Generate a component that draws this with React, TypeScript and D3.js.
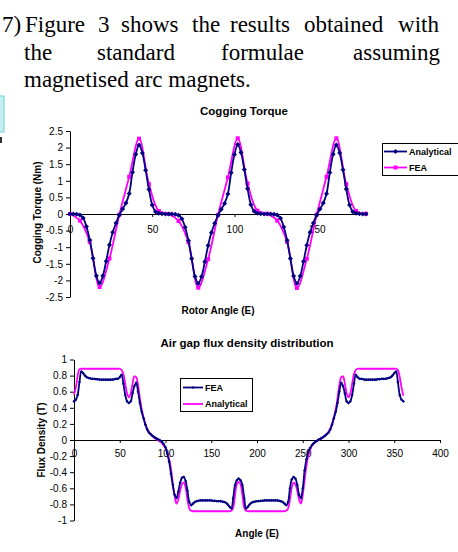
import React, { useEffect, useRef } from 'react';
import * as d3 from 'd3';

// Cogging torque chart
const rotorAngle = [
  0, 2, 4, 6, 8, 10, 12, 14, 16, 18, 20, 22, 24, 26, 28, 30, 32, 34, 36, 38,
  40, 42, 44, 46, 48, 50, 52, 54, 56, 58, 60, 62, 64, 66, 68, 70, 72, 74, 76, 78,
  80, 82, 84, 86, 88, 90, 92, 94, 96, 98, 100, 102, 104, 106, 108, 110, 112, 114, 116, 118,
  120, 122, 124, 126, 128, 130, 132, 134, 136, 138, 140, 142, 144, 146, 148, 150, 152, 154, 156, 158,
  160, 162, 164, 166, 168, 170, 172, 174, 176, 178, 180,
];
const torqueAnalytical = [
  0, 0, -0.01, -0.03, -0.12, -0.38, -0.78, -1.33, -1.86, -2.08, -1.86, -1.42, -0.93, -0.55, -0.27,
  -0.03, 0.15, 0.33, 0.62, 1.26, 1.8, 2.08, 1.84, 1.32, 0.74, 0.27, 0.07, 0.02, 0.01, 0,
  0, 0, -0.01, -0.04, -0.14, -0.4, -0.8, -1.35, -1.88, -2.09, -1.88, -1.44, -0.95, -0.56, -0.28,
  -0.04, 0.14, 0.32, 0.6, 1.24, 1.79, 2.09, 1.85, 1.34, 0.76, 0.28, 0.08, 0.02, 0.01, 0,
  0, 0, -0.01, -0.03, -0.13, -0.39, -0.79, -1.34, -1.87, -2.09, -1.87, -1.43, -0.94, -0.55, -0.27,
  -0.03, 0.15, 0.33, 0.61, 1.25, 1.8, 2.08, 1.84, 1.33, 0.75, 0.27, 0.07, 0.02, 0.01, 0,
  0,
];
const feaRotorAngle = [
  0, 6, 12, 18, 24, 30, 36, 42, 48, 54, 60, 66, 72, 78, 84, 90,
  96, 102, 108, 114, 120, 126, 132, 138, 144, 150, 156, 162, 168, 174, 180,
];
const torqueFea = [
  0, -0.2, -0.84, -2.2, -1.34, -0.02, 1.12, 2.27, 0.9, 0.09,
  0, -0.21, -0.85, -2.22, -1.36, -0.03, 1.1, 2.28, 0.92, 0.1,
  0.01, -0.2, -0.84, -2.23, -1.35, -0.02, 1.12, 2.28, 0.9, 0.09,
  0.01,
];
const torqueTicks = [2.5, 2, 1.5, 1, 0.5, 0, -0.5, -1, -1.5, -2, -2.5];
const rotorTicks = [0, 50, 100, 150];

// Air gap flux density chart
const fluxAngle = [
  0, 2, 4, 6, 8, 10, 12, 14, 16, 18, 20, 22, 24, 26, 28, 30, 32, 34, 36, 38,
  40, 42, 44, 46, 48, 50, 52, 54, 56, 58, 60, 62, 64, 66, 68, 70, 72, 74, 76, 78,
  80, 82, 84, 86, 88, 90, 92, 94, 96, 98, 100, 102, 104, 106, 108, 110, 112, 114, 116, 118,
  120, 122, 124, 126, 128, 130, 132, 134, 136, 138, 140, 142, 144, 146, 148, 150, 152, 154, 156, 158,
  160, 162, 164, 166, 168, 170, 172, 174, 176, 178, 180, 182, 184, 186, 188, 190, 192, 194, 196, 198,
  200, 202, 204, 206, 208, 210, 212, 214, 216, 218, 220, 222, 224, 226, 228, 230, 232, 234, 236, 238,
  240, 242, 244, 246, 248, 250, 252, 254, 256, 258, 260, 262, 264, 266, 268, 270, 272, 274, 276, 278,
  280, 282, 284, 286, 288, 290, 292, 294, 296, 298, 300, 302, 304, 306, 308, 310, 312, 314, 316, 318,
  320, 322, 324, 326, 328, 330, 332, 334, 336, 338, 340, 342, 344, 346, 348, 350, 352, 354, 356, 358,
  360,
];
const fluxFea = [
  0.48, 0.5, 0.56, 0.72, 0.85, 0.83, 0.8, 0.78, 0.77, 0.765,
  0.76, 0.76, 0.755, 0.755, 0.75, 0.75, 0.75, 0.75, 0.75, 0.75,
  0.75, 0.75, 0.755, 0.76, 0.76, 0.78, 0.81, 0.7, 0.56, 0.48,
  0.46, 0.48, 0.58, 0.67, 0.71, 0.6, 0.46, 0.35, 0.27, 0.19,
  0.13, 0.09, 0.07, 0.05, 0.035, 0.02, 0.01, -0.005, -0.02, -0.05,
  -0.09, -0.17, -0.27, -0.42, -0.56, -0.68, -0.72, -0.64, -0.53, -0.47,
  -0.46, -0.51, -0.63, -0.77, -0.81, -0.79, -0.77, -0.76, -0.755, -0.75,
  -0.75, -0.75, -0.75, -0.75, -0.75, -0.75, -0.755, -0.755, -0.76, -0.76,
  -0.76, -0.765, -0.77, -0.78, -0.8, -0.83, -0.85, -0.72, -0.56, -0.5,
  -0.48, -0.5, -0.56, -0.72, -0.85, -0.83, -0.8, -0.78, -0.77, -0.765,
  -0.76, -0.76, -0.755, -0.755, -0.75, -0.75, -0.75, -0.75, -0.75, -0.75,
  -0.75, -0.75, -0.755, -0.76, -0.77, -0.79, -0.81, -0.77, -0.6, -0.49,
  -0.46, -0.48, -0.56, -0.68, -0.72, -0.6, -0.38, -0.24, -0.15, -0.1,
  -0.065, -0.04, -0.02, -0.005, 0.01, 0.02, 0.035, 0.05, 0.07, 0.09,
  0.13, 0.19, 0.27, 0.35, 0.46, 0.6, 0.71, 0.67, 0.58, 0.48,
  0.46, 0.48, 0.56, 0.7, 0.81, 0.78, 0.76, 0.76, 0.755, 0.75,
  0.75, 0.75, 0.75, 0.75, 0.75, 0.75, 0.755, 0.755, 0.76, 0.76,
  0.76, 0.765, 0.77, 0.78, 0.8, 0.83, 0.85, 0.72, 0.56, 0.5,
  0.48,
];
const fluxAnalytical = [
  0.56, 0.65, 0.8, 0.88, 0.885, 0.885, 0.885, 0.885, 0.885, 0.885,
  0.885, 0.885, 0.885, 0.885, 0.885, 0.885, 0.885, 0.885, 0.885, 0.885,
  0.885, 0.885, 0.885, 0.885, 0.885, 0.885, 0.87, 0.82, 0.7, 0.58,
  0.53, 0.58, 0.7, 0.79, 0.78, 0.68, 0.52, 0.38, 0.28, 0.2,
  0.14, 0.1, 0.07, 0.045, 0.025, 0.01, -0.005, -0.02, -0.04, -0.07,
  -0.1, -0.16, -0.24, -0.36, -0.55, -0.7, -0.79, -0.74, -0.63, -0.55,
  -0.53, -0.59, -0.74, -0.85, -0.88, -0.885, -0.885, -0.885, -0.885, -0.885,
  -0.885, -0.885, -0.885, -0.885, -0.885, -0.885, -0.885, -0.885, -0.885, -0.885,
  -0.885, -0.885, -0.885, -0.885, -0.885, -0.885, -0.88, -0.84, -0.68, -0.55,
  -0.52, -0.55, -0.68, -0.84, -0.88, -0.885, -0.885, -0.885, -0.885, -0.885,
  -0.885, -0.885, -0.885, -0.885, -0.885, -0.885, -0.885, -0.885, -0.885, -0.885,
  -0.885, -0.885, -0.885, -0.885, -0.885, -0.885, -0.88, -0.85, -0.74, -0.59,
  -0.53, -0.55, -0.63, -0.74, -0.79, -0.68, -0.5, -0.32, -0.2, -0.13,
  -0.07, -0.045, -0.025, -0.01, 0.005, 0.015, 0.03, 0.05, 0.07, 0.1,
  0.14, 0.2, 0.28, 0.38, 0.52, 0.68, 0.78, 0.79, 0.7, 0.58,
  0.53, 0.58, 0.7, 0.82, 0.87, 0.885, 0.885, 0.885, 0.885, 0.885,
  0.885, 0.885, 0.885, 0.885, 0.885, 0.885, 0.885, 0.885, 0.885, 0.885,
  0.885, 0.885, 0.885, 0.885, 0.885, 0.885, 0.885, 0.87, 0.78, 0.65,
  0.55,
];
const fluxTicks = [1, 0.8, 0.6, 0.4, 0.2, 0, -0.2, -0.4, -0.6, -0.8, -1];
const angleTicks = [0, 50, 100, 150, 200, 250, 300, 350, 400];

const NAVY = '#000080';
const MAGENTA = '#ff00ff';
const SANS = '"Liberation Sans", Arial, sans-serif';
const SERIF = '"Liberation Serif", "Times New Roman", serif';

type G = d3.Selection<SVGGElement, unknown, null, undefined>;

function styleAxis(g: G) {
  g.attr('font-family', SANS).attr('font-size', 10);
  g.selectAll('path.domain').attr('stroke', '#000');
  g.selectAll('.tick line').attr('stroke', '#000');
  g.selectAll('.tick text').attr('fill', '#000');
}

const App = () => {
  const ref = useRef<SVGSVGElement>(null);

  useEffect(() => {
    const svg = d3.select(ref.current);
    svg.selectAll('*').remove();

    svg.append('rect').attr('width', 458).attr('height', 552).attr('fill', '#fff');

    // paragraph text above the figure
    const para = svg.append('g').attr('font-family', SERIF).attr('font-size', 23).attr('fill', '#000');
    const words: [string, number, number, string][] = [
      ['7)', 2, 32, 'start'],
      ['Figure', 25, 32, 'start'], ['3', 98, 32, 'start'], ['shows', 121, 32, 'start'],
      ['the', 192, 32, 'start'], ['results', 230, 32, 'start'], ['obtained', 304, 32, 'start'],
      ['with', 439, 32, 'end'],
      ['the', 24, 59.5, 'start'], ['standard', 97, 59.5, 'start'], ['formulae', 221, 59.5, 'start'],
      ['assuming', 440, 59.5, 'end'],
      ['magnetised arc magnets.', 24, 86.5, 'start'],
    ];
    words.forEach(([t, x, y, a]) => {
      para.append('text').attr('x', x).attr('y', y).attr('text-anchor', a).text(t);
    });

    // small cyan box at the left edge
    svg.append('rect').attr('x', -1).attr('y', 96).attr('width', 5).attr('height', 36)
      .attr('fill', '#c4eef0').attr('stroke', '#6fd0d8');
    svg.append('rect').attr('x', 0).attr('y', 137).attr('width', 2).attr('height', 6).attr('fill', '#333');

    // ---------- Cogging Torque ----------
    const xT = d3.scaleLinear().domain([0, 180]).range([70, 366]);
    const yT = d3.scaleLinear().domain([-2.5, 2.5]).range([297, 131]);
    const top = svg.append('g');

    top.append('text').attr('x', 244).attr('y', 115).attr('text-anchor', 'middle')
      .attr('font-family', SANS).attr('font-size', 11.5).attr('font-weight', 'bold')
      .text('Cogging Torque');

    const yAxT = top.append('g').attr('transform', 'translate(70,0)')
      .call(d3.axisLeft(yT).tickValues(torqueTicks).tickFormat(d => String(d))
        .tickSize(4).tickPadding(3).tickSizeOuter(0));
    styleAxis(yAxT);

    const xAxT = top.append('g').attr('transform', `translate(0,${yT(0)})`)
      .call(d3.axisBottom(xT).tickValues(rotorTicks).tickFormat(d => String(d))
        .tickSize(3).tickPadding(9).tickSizeOuter(0));
    styleAxis(xAxT);

    top.append('text').attr('transform', 'translate(37.5,212.5) rotate(-90)')
      .attr('text-anchor', 'middle').attr('dominant-baseline', 'central')
      .attr('font-family', SANS).attr('font-size', 10).attr('font-weight', 'bold')
      .text('Cogging Torque (Nm)');
    top.append('text').attr('x', 218).attr('y', 313.5).attr('text-anchor', 'middle')
      .attr('font-family', SANS).attr('font-size', 10).attr('font-weight', 'bold')
      .text('Rotor Angle (E)');

    const feaLineT = d3.line<number>()
      .x((_, i) => xT(feaRotorAngle[i])).y(d => yT(d)).curve(d3.curveCatmullRom);
    top.append('path').attr('d', feaLineT(torqueFea) ?? '')
      .attr('fill', 'none').attr('stroke', MAGENTA).attr('stroke-width', 1.8);
    top.append('g').selectAll('path').data(torqueFea).enter().append('path')
      .attr('transform', (d, i) => `translate(${xT(feaRotorAngle[i])},${yT(d)})`)
      .attr('d', d3.symbol(d3.symbolSquare, 16)() ?? '').attr('fill', MAGENTA);

    const anaLineT = d3.line<number>()
      .x((_, i) => xT(rotorAngle[i])).y(d => yT(d)).curve(d3.curveCatmullRom);
    top.append('path').attr('d', anaLineT(torqueAnalytical) ?? '')
      .attr('fill', 'none').attr('stroke', NAVY).attr('stroke-width', 1.8);
    top.append('g').selectAll('path').data(torqueAnalytical).enter().append('path')
      .attr('transform', (d, i) => `translate(${xT(rotorAngle[i])},${yT(d)})`)
      .attr('d', d3.symbol(d3.symbolDiamond2, 16)() ?? '').attr('fill', NAVY);

    // legend
    const legT = top.append('g').attr('font-family', SANS).attr('font-size', 9).attr('font-weight', 'bold');
    legT.append('rect').attr('x', 382.5).attr('y', 143.5).attr('width', 80).attr('height', 32)
      .attr('fill', '#fff').attr('stroke', '#000');
    [
      { name: 'Analytical', color: NAVY, sym: d3.symbolDiamond2, size: 16, y: 151.5 },
      { name: 'FEA', color: MAGENTA, sym: d3.symbolSquare, size: 16, y: 167.5 },
    ].forEach(s => {
      legT.append('line').attr('x1', 384).attr('x2', 407).attr('y1', s.y).attr('y2', s.y)
        .attr('stroke', s.color).attr('stroke-width', 1.8);
      legT.append('path').attr('transform', `translate(395.5,${s.y})`)
        .attr('d', d3.symbol(s.sym, s.size)() ?? '').attr('fill', s.color);
      legT.append('text').attr('x', 409).attr('y', s.y).attr('dy', '0.35em').text(s.name);
    });

    // ---------- Air gap flux density ----------
    const xB = d3.scaleLinear().domain([0, 400]).range([74, 440]);
    const yB = d3.scaleLinear().domain([-1, 1]).range([520.5, 359.5]);
    const bot = svg.append('g');

    bot.append('text').attr('x', 247).attr('y', 347).attr('text-anchor', 'middle')
      .attr('font-family', SANS).attr('font-size', 11.5).attr('font-weight', 'bold')
      .text('Air gap flux density distribution');

    const yAxB = bot.append('g').attr('transform', 'translate(74,0)')
      .call(d3.axisLeft(yB).tickValues(fluxTicks).tickFormat(d => String(d))
        .tickSize(4).tickPadding(3).tickSizeOuter(0));
    styleAxis(yAxB);

    const xAxB = bot.append('g').attr('transform', `translate(0,${yB(0)})`)
      .call(d3.axisBottom(xB).tickValues(angleTicks).tickFormat(d => String(d))
        .tickSize(3).tickPadding(7).tickSizeOuter(0));
    styleAxis(xAxB);

    bot.append('text').attr('transform', 'translate(41,440) rotate(-90)')
      .attr('text-anchor', 'middle').attr('dominant-baseline', 'central')
      .attr('font-family', SANS).attr('font-size', 10).attr('font-weight', 'bold')
      .text('Flux Density (T)');
    bot.append('text').attr('x', 257).attr('y', 537).attr('text-anchor', 'middle')
      .attr('font-family', SANS).attr('font-size', 10).attr('font-weight', 'bold')
      .text('Angle (E)');

    const lineB = d3.line<number>()
      .x((_, i) => xB(fluxAngle[i])).y(d => yB(d)).curve(d3.curveCatmullRom);
    bot.append('path').attr('d', lineB(fluxAnalytical) ?? '')
      .attr('fill', 'none').attr('stroke', MAGENTA).attr('stroke-width', 1.8);
    bot.append('path').attr('d', lineB(fluxFea) ?? '')
      .attr('fill', 'none').attr('stroke', NAVY).attr('stroke-width', 1.8);
    bot.append('g').selectAll('path').data(fluxFea).enter().append('path')
      .attr('transform', (d, i) => `translate(${xB(fluxAngle[i])},${yB(d)})`)
      .attr('d', d3.symbol(d3.symbolDiamond2, 6)() ?? '').attr('fill', NAVY);

    const legB = bot.append('g').attr('font-family', SANS).attr('font-size', 9).attr('font-weight', 'bold');
    legB.append('rect').attr('x', 180.5).attr('y', 378.5).attr('width', 72).attr('height', 33)
      .attr('fill', '#fff').attr('stroke', '#000');
    [
      { name: 'FEA', color: NAVY, marker: true, y: 387.5 },
      { name: 'Analytical', color: MAGENTA, marker: false, y: 404 },
    ].forEach(s => {
      legB.append('line').attr('x1', 183).attr('x2', 203).attr('y1', s.y).attr('y2', s.y)
        .attr('stroke', s.color).attr('stroke-width', 1.8);
      if (s.marker) {
        legB.append('path').attr('transform', `translate(193,${s.y})`)
          .attr('d', d3.symbol(d3.symbolDiamond2, 6)() ?? '').attr('fill', s.color);
      }
      legB.append('text').attr('x', 205).attr('y', s.y).attr('dy', '0.35em').text(s.name);
    });
  }, []);

  return (
    <svg ref={ref} width={458} height={552}
      style={{ position: 'absolute', left: 0, top: 0, background: '#fff' }} />
  );
};

export default App;
